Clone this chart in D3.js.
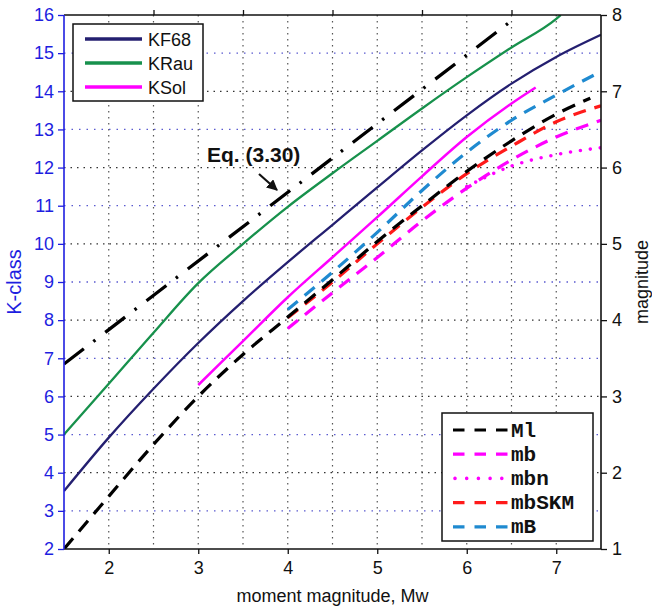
<!DOCTYPE html>
<html>
<head>
<meta charset="utf-8">
<script src="https://cdn.jsdelivr.net/npm/d3@7"></script>
<style>
  html, body { margin: 0; padding: 0; background: #fff; }
  svg { display: block; }
</style>
</head>
<body>
<svg id="chart" width="652" height="608"></svg>
<script>
// ---------- data ----------
// x values (moment magnitude Mw) and K-class values (left axis)
const kf68X  = [1.5, 2.0, 2.5, 3.0, 3.5, 4.0, 4.5, 5.0, 5.5, 6.0, 6.5, 7.0, 7.5];
const kf68K  = [3.52, 4.92, 6.2, 7.4, 8.5, 9.52, 10.5, 11.48, 12.45, 13.37, 14.2, 14.9, 15.48];

const krauX  = [1.5, 2.0, 2.5, 3.0, 3.5, 4.0, 4.5, 5.0, 5.5, 6.0, 6.5, 7.0, 7.05];
const krauK  = [5.0, 6.33, 7.67, 8.97, 10.0, 10.97, 11.85, 12.7, 13.55, 14.37, 15.15, 15.9, 16.0];

const ksolX  = [3.0, 3.5, 4.0, 4.5, 5.0, 5.5, 6.0, 6.5, 6.77];
const ksolK  = [6.3, 7.45, 8.6, 9.65, 10.7, 11.77, 12.8, 13.68, 14.1];

const eqX    = [1.5, 6.5];
const eqK    = [6.85, 15.85];

// magnitude series (right axis)
const m1X    = [1.5, 2.0, 2.5, 3.0, 3.5, 4.0, 4.5, 5.0, 5.5, 6.0, 6.5, 7.0, 7.38];
const m1M    = [1.0, 1.69, 2.37, 3.0, 3.55, 4.04, 4.53, 5.03, 5.5, 5.95, 6.35, 6.7, 6.91];

const mbX    = [4.0, 4.5, 5.0, 5.5, 6.0, 6.5, 7.0, 7.5];
const mbM    = [3.89, 4.36, 4.82, 5.3, 5.73, 6.1, 6.4, 6.62];

const mbnX   = [6.0, 6.5, 7.0, 7.5];
const mbnM   = [5.75, 6.02, 6.17, 6.26];

const skmX   = [4.0, 4.5, 5.0, 5.5, 6.0, 6.5, 7.0, 7.5];
const skmM   = [4.03, 4.5, 5.0, 5.48, 5.92, 6.28, 6.6, 6.81];

const mBX    = [4.0, 4.5, 5.0, 5.5, 6.0, 6.5, 7.0, 7.5];
const mBM    = [4.14, 4.63, 5.15, 5.7, 6.2, 6.62, 6.95, 7.26];

// ticks and labels
const xTicks      = [2, 3, 4, 5, 6, 7];
const xTopTicks   = [2.5, 3.5, 4.5, 5.5, 6.5];
const xGrid       = [2, 2.5, 3, 3.5, 4, 4.5, 5, 5.5, 6, 6.5, 7];
const kTicks      = [2, 3, 4, 5, 6, 7, 8, 9, 10, 11, 12, 13, 14, 15, 16];
const mTicks      = [1, 2, 3, 4, 5, 6, 7, 8];

const legend1 = ["KF68", "KRau", "KSol"];
const legend2 = ["Ml", "mb", "mbn", "mbSKM", "mB"];

// ---------- layout ----------
const L = 64, R = 601, T = 15, B = 549;
const blue = "#1e1ee0";
const sans = "'Liberation Sans', Arial, sans-serif";
const mono = "'Liberation Mono', 'Courier New', monospace";

const svg = d3.select("#chart");
const x  = d3.scaleLinear().domain([1.5, 7.5]).range([L, R]);
const yK = d3.scaleLinear().domain([2, 16]).range([B, T]);
const yM = d3.scaleLinear().domain([1, 8]).range([B, T]);

const defs = svg.append("defs");
defs.append("clipPath").attr("id", "clip")
  .append("rect").attr("x", L).attr("y", T).attr("width", R - L).attr("height", B - T);

// ---------- grid ----------
const grid = svg.append("g");
grid.selectAll("line.vx").data(xGrid).join("line")
  .attr("x1", d => x(d)).attr("x2", d => x(d)).attr("y1", T).attr("y2", B)
  .attr("stroke", "#555").attr("stroke-width", 1.2).attr("stroke-dasharray", "1.5,4.5");
grid.selectAll("line.hk").data(kTicks.filter(k => k % 2 === 1)).join("line")
  .attr("x1", L).attr("x2", R).attr("y1", d => yK(d)).attr("y2", d => yK(d))
  .attr("stroke", "#5a5ad0").attr("stroke-width", 1.3).attr("stroke-dasharray", "1.5,6");
grid.selectAll("line.hm").data(mTicks.slice(1, -1)).join("line")
  .attr("x1", L).attr("x2", R).attr("y1", d => yM(d)).attr("y2", d => yM(d))
  .attr("stroke", "#333").attr("stroke-width", 1.3).attr("stroke-dasharray", "1.5,5");

// ---------- lines ----------
const plot = svg.append("g").attr("clip-path", "url(#clip)");
const lineK = d3.line().x(d => x(d[0])).y(d => yK(d[1])).curve(d3.curveMonotoneX);
const lineM = d3.line().x(d => x(d[0])).y(d => yM(d[1])).curve(d3.curveMonotoneX);
const zip = (a, b) => a.map((v, i) => [v, b[i]]);

const seriesK = [
  { xs: eqX,   ys: eqK,   color: "#000",    w: 3.3, dash: "25,12,2.5,12.5" },
  { xs: krauX, ys: krauK, color: "#17914c", w: 2.3, dash: null },
  { xs: kf68X, ys: kf68K, color: "#241f70", w: 2.3, dash: null },
  { xs: ksolX, ys: ksolK, color: "#ff00ff", w: 2.5, dash: null },
];
const seriesM = [
  { xs: mbnX, ys: mbnM, color: "#ff00ff", w: 3.6, dash: "0,10", cap: "round" },
  { xs: mbX,  ys: mbM,  color: "#ff00ff", w: 3.2, dash: "13,9" },
  { xs: skmX, ys: skmM, color: "#ff1a1a", w: 3.2, dash: "13,9" },
  { xs: m1X,  ys: m1M,  color: "#000",    w: 3.2, dash: "14,9" },
  { xs: mBX,  ys: mBM,  color: "#1f8ad0", w: 3.2, dash: "13,9" },
];

seriesK.forEach(s => {
  plot.append("path").datum(zip(s.xs, s.ys)).attr("d", lineK)
    .attr("fill", "none").attr("stroke", s.color).attr("stroke-width", s.w)
    .attr("stroke-dasharray", s.dash);
});
seriesM.forEach(s => {
  plot.append("path").datum(zip(s.xs, s.ys)).attr("d", lineM)
    .attr("fill", "none").attr("stroke", s.color).attr("stroke-width", s.w)
    .attr("stroke-dasharray", s.dash).attr("stroke-linecap", s.cap || "butt");
});

// ---------- axes ----------
const axBottom = svg.append("g").attr("transform", `translate(0,${B})`)
  .call(d3.axisBottom(x).tickValues(xTicks).tickSize(5).tickPadding(7).tickFormat(d3.format("d")));
const axTop = svg.append("g").attr("transform", `translate(0,${T})`)
  .call(d3.axisTop(x).tickValues(xTopTicks).tickSize(5).tickFormat(""));
const axLeft = svg.append("g").attr("transform", `translate(${L},0)`)
  .call(d3.axisLeft(yK).tickValues(kTicks).tickSize(6).tickPadding(4).tickFormat(d3.format("d")));
const axRight = svg.append("g").attr("transform", `translate(${R},0)`)
  .call(d3.axisRight(yM).tickValues(mTicks).tickSize(6).tickPadding(5).tickFormat(d3.format("d")));

[axBottom, axTop, axRight].forEach(a => {
  a.select(".domain").attr("stroke", "#111").attr("stroke-width", 1.6);
  a.selectAll(".tick line").attr("stroke", "#111").attr("stroke-width", 1.3);
  a.selectAll(".tick text").attr("fill", "#111").style("font-family", sans).style("font-size", "18px");
});
axLeft.select(".domain").attr("stroke", blue).attr("stroke-width", 1.6);
axLeft.selectAll(".tick line").attr("stroke", blue).attr("stroke-width", 1.3);
axLeft.selectAll(".tick text").attr("fill", blue).style("font-family", sans).style("font-size", "18px");
axTop.select(".domain").attr("d", `M${L},0H${R}`);
axBottom.select(".domain").attr("d", `M${L},0H${R}`);
axLeft.select(".domain").attr("d", `M0,${B}V${T}`);
axRight.select(".domain").attr("d", `M0,${B}V${T}`);

// axis titles
svg.append("text").attr("x", (L + R) / 2).attr("y", 602).attr("text-anchor", "middle")
  .style("font-family", sans).style("font-size", "18px").attr("fill", "#111")
  .text("moment magnitude, Mw");
svg.append("text").attr("transform", `translate(21,${(T + B) / 2}) rotate(-90)`)
  .attr("text-anchor", "middle").style("font-family", sans).style("font-size", "20px")
  .attr("fill", blue).text("K-class");
svg.append("text").attr("transform", `translate(648,${(T + B) / 2}) rotate(-90)`)
  .attr("text-anchor", "middle").style("font-family", sans).style("font-size", "18px")
  .attr("fill", "#111").text("magnitude");

// ---------- annotation ----------
svg.append("text").attr("x", 207).attr("y", 162)
  .style("font-family", sans).style("font-size", "21px").style("font-weight", "bold")
  .attr("fill", "#111").text("Eq. (3.30)");
defs.append("marker").attr("id", "arr").attr("viewBox", "0 0 10 10")
  .attr("refX", 9).attr("refY", 5).attr("markerWidth", 5).attr("markerHeight", 5)
  .attr("orient", "auto")
  .append("path").attr("d", "M0,0 L10,5 L0,10 z").attr("fill", "#111");
svg.append("line").attr("x1", 259).attr("y1", 174).attr("x2", 277).attr("y2", 190)
  .attr("stroke", "#111").attr("stroke-width", 2.2).attr("marker-end", "url(#arr)");

// ---------- legends ----------
const lg1 = svg.append("g");
lg1.append("rect").attr("x", 73).attr("y", 24).attr("width", 130).attr("height", 77)
  .attr("fill", "#fff").attr("stroke", "#111").attr("stroke-width", 1.5);
const lg1Styles = [seriesK[2], seriesK[1], seriesK[3]];
legend1.forEach((name, i) => {
  const yy = 39 + i * 24;
  lg1.append("line").attr("x1", 85).attr("x2", 142).attr("y1", yy).attr("y2", yy)
    .attr("stroke", lg1Styles[i].color).attr("stroke-width", 3.5);
  lg1.append("text").attr("x", 148).attr("y", yy + 6.5)
    .style("font-family", sans).style("font-size", "18px").attr("fill", "#111").text(name);
});

const lg2 = svg.append("g");
lg2.append("rect").attr("x", 442).attr("y", 413).attr("width", 151).attr("height", 128)
  .attr("fill", "#fff").attr("stroke", "#111").attr("stroke-width", 1.5);
const lg2Styles = [seriesM[3], seriesM[1], seriesM[0], seriesM[2], seriesM[4]];
legend2.forEach((name, i) => {
  const yy = 430 + i * 24.2;
  const s = lg2Styles[i];
  if (s.cap) {
    lg2.append("line").attr("x1", 455).attr("x2", 503).attr("y1", yy).attr("y2", yy)
      .attr("stroke", s.color).attr("stroke-width", 3.6)
      .attr("stroke-dasharray", "0,11.7").attr("stroke-linecap", "round");
  } else {
    lg2.append("line").attr("x1", 453).attr("x2", 508).attr("y1", yy).attr("y2", yy)
      .attr("stroke", s.color).attr("stroke-width", 3.2).attr("stroke-dasharray", "11.5,10");
  }
  lg2.append("text").attr("x", 511).attr("y", yy + 6.5)
    .style("font-family", mono).style("font-weight", "bold").style("font-size", "21px")
    .attr("fill", "#111").text(name);
});
</script>
</body>
</html>
